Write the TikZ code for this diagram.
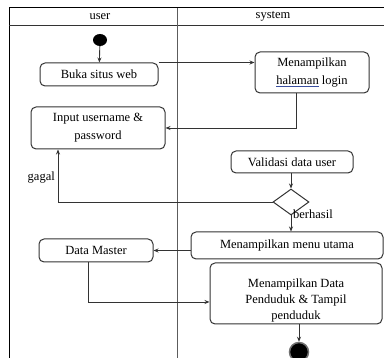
\documentclass[tikz,border=0pt]{standalone}
\usepackage{fontspec}
\setmainfont{Liberation Serif}
\usetikzlibrary{arrows.meta,shapes.geometric}
\definecolor{ln}{HTML}{333333}
\definecolor{ulblue}{HTML}{3A4FA0}
\tikzset{
  box/.style={draw=ln, line width=1pt, rounded corners=5pt, align=center, inner sep=0pt,
    font=\fontsize{12.5}{18}\selectfont},
  arr/.style={draw=ln, line width=0.9pt, -{Stealth[length=5pt,width=4pt]}},
  lane/.style={draw=ln, line width=1pt},
  lbl/.style={font=\fontsize{12.5}{15}\selectfont, inner sep=0pt}
}
\begin{document}
\begin{tikzpicture}[x=1pt,y=-1pt]
\useasboundingbox (0,0) rectangle (384,358);
% frame
\draw[lane,black] (9,358) -- (9,8) -- (384,8);
\draw[lane] (9,26) -- (384,26);
\draw[lane,ln!80] (177,8) -- (177,358);
\node[lbl] (hu) at (100,16.5) {user};
\node[lbl] (hs) at (273,16.5) {system};
% start
\node[ellipse, fill=black, minimum width=14pt, minimum height=12pt, inner sep=0pt] (start) at (100,40) {};
% boxes
\node[box, minimum width=118pt, minimum height=23pt] (buka) at (99,74.5) {Buka situs web};
\node[box, minimum width=114pt, minimum height=41pt] (login) at (312,72.5) {Menampilkan\\{\color{ulblue}\underline{\color{black}halaman}} login};
\node[box, minimum width=134pt, minimum height=42pt] (input) at (98,128) {Input username \&\\password};
\node[box, minimum width=122pt, minimum height=22pt] (valid) at (292,162) {Validasi data user};
\node[diamond, draw=ln, line width=1pt, minimum width=36pt, minimum height=26pt, inner sep=0pt, aspect=1.4] (dec) at (291,202) {};
\node[box, minimum width=192pt, minimum height=27pt] (menu) at (287,245.5) {Menampilkan menu utama};
\node[box, minimum width=114pt, minimum height=23pt] (dm) at (96,250.5) {Data Master};
\node[box, minimum width=172pt, minimum height=61pt] (big) at (296,293.5) {};
\node[lbl, align=center, font=\fontsize{12.5}{16}\selectfont] (bigtxt) at (296,300) {Menampilkan Data\\Penduduk \& Tampil\\penduduk};
\node[circle, fill=black, draw=ln!70, line width=1.5pt, minimum size=19pt, inner sep=0pt] (end) at (299,352) {};
% labels
\node[lbl, anchor=east] (gagal) at (55,178) {gagal};
\node[lbl, anchor=west] (berhasil) at (293,214) {berhasil};
% connectors
\draw[arr] (start) -- (buka);
\draw[arr] (buka.north east) -- (buka.north east -| login.west);
\draw[arr] ([xshift=-16pt]login.south) |- (input.east);
\draw[arr] (valid.south -| dec.north) -- (dec.north);
\draw[arr] (dec.west) -| ([xshift=-40pt]input.south);
\draw[arr] (dec.south) -- (dec.south |- menu.north);
\draw[arr] (dm.east -| menu.west) -- (dm.east);
\draw[arr] ([xshift=-8pt]dm.south) |- ([yshift=-8.5pt]big.west);
\draw[arr] (end.north |- big.south) -- (end.north);
\end{tikzpicture}
\end{document}
